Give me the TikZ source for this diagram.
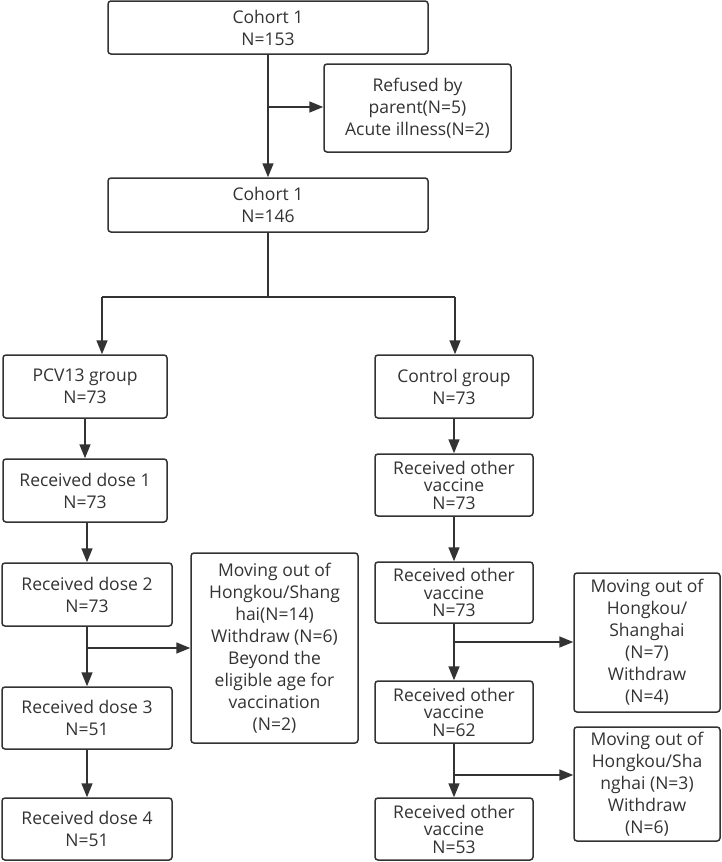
\documentclass[tikz,border=0pt]{standalone}
\usepackage{fontspec}
\setmainfont{Open Sans}
\usetikzlibrary{arrows.meta}
\definecolor{ink}{HTML}{333333}
\begin{document}
\begin{tikzpicture}[x=1pt,y=-1pt,
  box/.style={draw=ink, line width=1.5pt, rounded corners=3pt, fill=white, text=ink,
    align=center, inner sep=0pt, font=\fontsize{17.5}{22}\selectfont},
  tight/.style={font=\fontsize{17.5}{17.5}\selectfont},
  arr/.style={draw=ink, line width=1.6pt, -{Triangle[length=14pt,width=11pt]}},
  ln/.style={draw=ink, line width=1.6pt}]
\useasboundingbox (0,0) rectangle (722,862);
% top part
\node[box, minimum width=320pt, minimum height=53pt] (c153) at (268,27.5) {Cohort 1\\N=153};
\node[box, minimum width=187pt, minimum height=88pt] (ref) at (417.5,108) {Refused by\\parent(N=5)\\Acute illness(N=2)};
\node[box, minimum width=320pt, minimum height=54pt] (c146) at (268,205) {Cohort 1\\N=146};
% left column
\node[box, minimum width=164pt, minimum height=63pt] (pcv) at (85,386.5) {PCV13 group\\N=73};
\node[box, minimum width=164pt, minimum height=63pt] (d1) at (85,490.5) {Received dose 1\\N=73};
\node[box, minimum width=170pt, minimum height=63pt] (d2) at (87,594.5) {Received dose 2\\N=73};
\node[box, minimum width=170pt, minimum height=62pt] (d3) at (87,718) {Received dose 3\\N=51};
\node[box, minimum width=170pt, minimum height=62pt] (d4) at (87,829) {Received dose 4\\N=51};
\node[box, minimum width=167pt, minimum height=190pt] (ml) at (274.5,648) {Moving out of\\Hongkou/Shang\\hai(N=14)\\Withdraw (N=6)\\Beyond the\\eligible age for\\vaccination\\(N=2)};
% right column
\node[box, minimum width=158pt, minimum height=63pt] (ctl) at (454,386.5) {Control group\\N=73};
\node[box, tight, minimum width=158pt, minimum height=62pt] (r1) at (454,485) {Received other\\vaccine\\N=73};
\node[box, tight, minimum width=158pt, minimum height=61pt] (r2) at (454,592.5) {Received other\\vaccine\\N=73};
\node[box, tight, minimum width=158pt, minimum height=62pt] (r3) at (454,712) {Received other\\vaccine\\N=62};
\node[box, tight, minimum width=158pt, minimum height=62pt] (r4) at (454,829) {Received other\\vaccine\\N=53};
\node[box, minimum width=146pt, minimum height=139pt] (mr1) at (647,642.5) {Moving out of\\Hongkou/\\Shanghai\\(N=7)\\Withdraw\\(N=4)};
\node[box, minimum width=146pt, minimum height=114pt] (mr2) at (647,784) {Moving out of\\Hongkou/Sha\\nghai (N=3)\\Withdraw\\(N=6)};
% connectors top
\coordinate (j1) at (268,107);
\draw[arr] (c153.south) -- (c146.north);
\draw[arr] (j1) -- (ref.west |- j1);
\coordinate (j2) at (268,297);
\coordinate (jl) at (102,297);
\coordinate (jr) at (455,297);
\draw[ln] (c146.south) -- (j2);
\draw[ln] (jl) -- (jr);
\draw[arr] (jl) -- (jl |- pcv.north);
\draw[arr] (jr) -- (jr |- ctl.north);
% left chain
\draw[arr] (pcv.south) -- (d1.north);
\draw[arr] (d1.south -| d2.north) -- (d2.north);
\draw[arr] (d2.south) -- (d3.north);
\draw[arr] (d3.south) -- (d4.north);
\coordinate (j3) at (87,648);
\draw[arr] (j3) -- (ml.west |- j3);
% right chain
\draw[arr] (ctl.south) -- (r1.north);
\draw[arr] (r1.south) -- (r2.north);
\draw[arr] (r2.south) -- (r3.north);
\draw[arr] (r3.south) -- (r4.north);
\coordinate (j4) at (454,642);
\draw[arr] (j4) -- (mr1.west |- j4);
\coordinate (j5) at (454,775);
\draw[arr] (j5) -- (mr2.west |- j5);
\end{tikzpicture}
\end{document}
